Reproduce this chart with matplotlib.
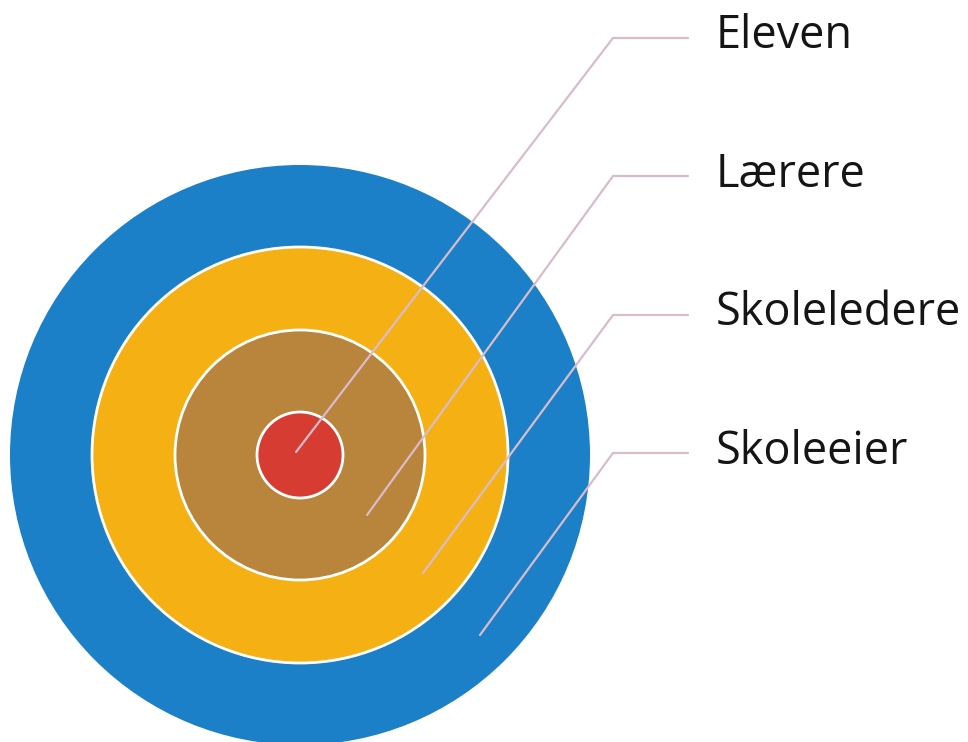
import matplotlib
matplotlib.use("Agg")
import matplotlib.pyplot as plt
from matplotlib.patches import Circle

# Data: levels from innermost to outermost
labels = ["Eleven", "Lærere", "Skoleledere", "Skoleeier"]
level_radius = [43, 125, 208, 290]
colors = ["#d73c33", "#b9843c", "#f5b013", "#1b80c7"]

W, H = 968, 742
fig = plt.figure(figsize=(W / 100, H / 100), dpi=100)
ax = fig.add_axes([0, 0, 1, 1])
ax.set_xlim(0, W)
ax.set_ylim(H, 0)
ax.set_aspect("equal")
ax.axis("off")

cx, cy = 300, 455
# draw outermost first
for i in range(len(labels) - 1, -1, -1):
    ec = "none" if i == len(labels) - 1 else "white"
    ax.add_patch(Circle((cx, cy), level_radius[i], facecolor=colors[i],
                        edgecolor=ec, linewidth=2.0, zorder=1 + (3 - i)))

# leader lines
starts = [(296, 452), (367, 515), (423, 573), (480, 635)]
elbow_x, end_x = 613, 688
label_y = [38, 176, 315, 453]
text_y = [36, 175, 313, 452]
line_color = "#d9bccb"
for (sx, sy), ly, ty, lab in zip(starts, label_y, text_y, labels):
    ax.plot([sx, elbow_x, end_x], [sy, ly, ly], color=line_color, lw=1.6,
            solid_capstyle="round", zorder=10)
    ax.text(716, ty, lab, fontsize=32.5, family="Open Sans", color="#151515",
            va="center", ha="left", zorder=11)

fig.savefig("out.png", dpi=100, facecolor="white")
